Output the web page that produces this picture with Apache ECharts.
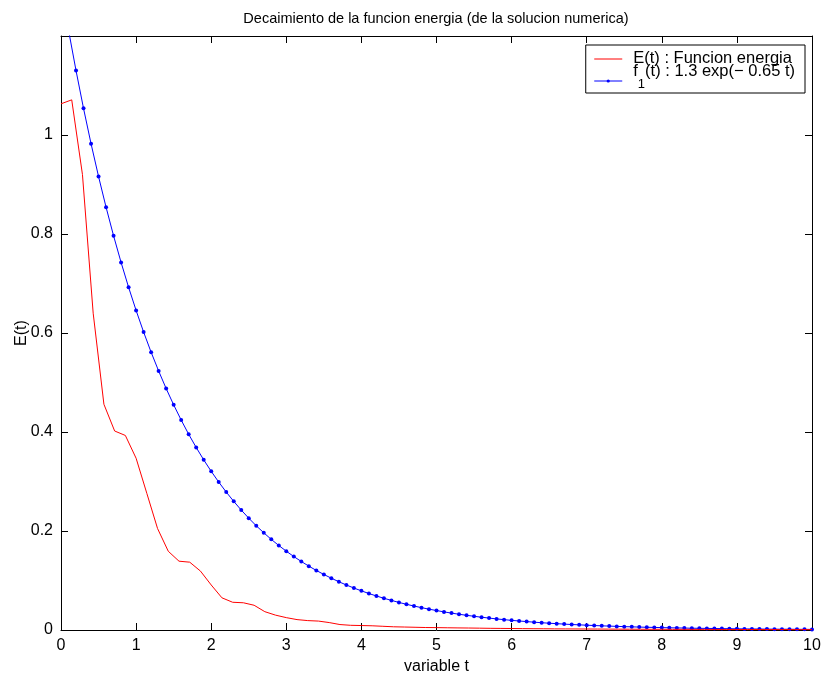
<!DOCTYPE html>
<html>
<head>
<meta charset="utf-8">
<script src="https://cdn.jsdelivr.net/npm/echarts@6/dist/echarts.min.js"></script>
<style>html,body{margin:0;padding:0;background:#fff}#c{width:826px;height:677px}</style>
</head>
<body>
<div id="c"></div>
<script>
// Energy function E(t), sampled every 1/7 time unit (t = 0 .. 10)
const energyStep = 1 / 7;
const energyValues = [
  1.063, 1.071, 0.92, 0.64, 0.456, 0.402, 0.393, 0.347, 0.276, 0.205,
  0.159, 0.139, 0.137, 0.119, 0.091, 0.065, 0.056, 0.055, 0.050, 0.037,
  0.030, 0.025, 0.021, 0.019, 0.018, 0.015, 0.011, 0.0095, 0.009, 0.0085,
  0.0075, 0.0065, 0.006, 0.0055, 0.005, 0.0048, 0.0045, 0.0042, 0.004, 0.0037,
  0.0034, 0.0032, 0.003, 0.0028, 0.0026, 0.0025, 0.0023, 0.0022, 0.0021, 0.002,
  0.0019, 0.0018, 0.0017, 0.0016, 0.0015, 0.0014, 0.0014, 0.0013, 0.0013, 0.0012,
  0.0012, 0.0011, 0.0011, 0.001, 0.001, 0.001, 0.0009, 0.0009, 0.0009, 0.0008,
  0.0008
];
// Reference curve f1(t), sampled every 0.1 time unit (t = 0 .. 10)
const refStep = 0.1;
const refValues = [
  1.3, 1.2121, 1.1302, 1.0538, 0.9825, 0.9161, 0.8542, 0.7964, 0.7426, 0.6924,
  0.6456, 0.6019, 0.5612, 0.5233, 0.4879, 0.4549, 0.4242, 0.3955, 0.3688, 0.3438,
  0.3206, 0.2989, 0.2787, 0.2599, 0.2423, 0.2259, 0.2106, 0.1964, 0.1831, 0.1707,
  0.1592, 0.1484, 0.1384, 0.1290, 0.1203, 0.1122, 0.1046, 0.0975, 0.0909, 0.0848,
  0.0791, 0.0737, 0.0687, 0.0641, 0.0598, 0.0557, 0.0519, 0.0484, 0.0452, 0.0421,
  0.0393, 0.0366, 0.0341, 0.0318, 0.0297, 0.0277, 0.0258, 0.0241, 0.0224, 0.0209,
  0.0195, 0.0182, 0.0170, 0.0158, 0.0147, 0.0137, 0.0128, 0.0119, 0.0111, 0.0104,
  0.0097, 0.0090, 0.0084, 0.0079, 0.0073, 0.0068, 0.0064, 0.0059, 0.0055, 0.0052,
  0.0048, 0.0045, 0.0042, 0.0039, 0.0036, 0.0034, 0.0032, 0.0030, 0.0028, 0.0026,
  0.0024, 0.0022, 0.0021, 0.0019, 0.0018, 0.0017, 0.0016, 0.0015, 0.0014, 0.0013,
  0.0012
];
const xTickLabels = ['0','1','2','3','4','5','6','7','8','9','10'];
const yTickLabels = ['0','0.2','0.4','0.6','0.8','1'];
const titleText = 'Decaimiento de la funcion energia (de la solucion numerica)';
const energyName = 'E(t) : Funcion energia';
const refName = 'f1';
const refLabelMain = 'f';
const refLabelSub = '1';
const refLabelRest = '(t) : 1.3 exp(\u2212 0.65 t)';

const energyData = energyValues.map((v, i) => [i * energyStep, v]);
const refData = refValues.map((v, i) => [i * refStep, v]);

const FONT = 'Liberation Sans, Arial, Helvetica, sans-serif';
const axisCommon = {
  axisLine: { show: true, onZero: false, lineStyle: { color: '#000', width: 1 } },
  axisTick: { show: true, inside: true, length: 7, lineStyle: { color: '#000' } },
  splitLine: { show: false },
  nameMoveOverlap: false
};

const chart = echarts.init(document.getElementById('c'), null, { renderer: 'canvas' });
chart.setOption({
  backgroundColor: '#fff',
  animation: false,
  title: {
    text: titleText, left: 431, top: 6, textAlign: 'center',
    textStyle: { fontFamily: FONT, fontSize: 14.5, fontWeight: 'normal', color: '#000' }
  },
  grid: { left: 61, right: 14, top: 36, bottom: 47, outerBoundsMode: 'none', containLabel: false },
  legend: {
    orient: 'vertical', right: 21, top: 45,
    backgroundColor: '#fff', borderColor: '#000', borderWidth: 1,
    padding: [5, 10, 2, 8], itemWidth: 28, itemHeight: 4, itemGap: -4,
    lineStyle: { width: 1 },
    textStyle: { fontFamily: FONT, fontSize: 16.5, color: '#000',
      rich: {
        e: { fontFamily: FONT, fontSize: 16.5, color: '#000', lineHeight: 18, verticalAlign: 'top', padding: [0, 0, 0, 6] },
        a: { fontFamily: FONT, fontSize: 16.5, color: '#000', lineHeight: 18, verticalAlign: 'top' },
        s: { fontFamily: FONT, fontSize: 13, color: '#000', lineHeight: 36, verticalAlign: 'top', padding: [15, 0, 0, 0] }
      }
    },
    formatter: function (name) {
      if (name === refName) return '{e|' + refLabelMain + '}{s|' + refLabelSub + '}{a|' + refLabelRest + '}';
      return '{e|' + name + '}';
    },
    data: [
      { name: energyName, itemStyle: { opacity: 0 } },
      { name: refName }
    ]
  },
  xAxis: [
    Object.assign({}, axisCommon, {
      type: 'value', position: 'bottom', min: 0, max: 10, interval: 1,
      name: 'variable t', nameLocation: 'middle', nameGap: 29,
      nameTextStyle: { fontFamily: FONT, fontSize: 16, color: '#000' },
      axisLabel: { fontFamily: FONT, fontSize: 16, color: '#000', margin: 8,
        formatter: v => xTickLabels[Math.round(v)] }
    }),
    Object.assign({}, axisCommon, {
      type: 'value', position: 'top', min: 0, max: 10, interval: 1,
      axisLabel: { show: false }
    })
  ],
  yAxis: [
    Object.assign({}, axisCommon, {
      type: 'value', position: 'left', min: 0, max: 1.2, interval: 0.2,
      name: 'E(t)', nameLocation: 'middle', nameGap: 31, nameRotate: 90,
      nameTextStyle: { fontFamily: FONT, fontSize: 16, color: '#000' },
      axisLabel: { fontFamily: FONT, fontSize: 16, color: '#000', margin: 8,
        formatter: v => { const i = Math.round(v / 0.2); return i < yTickLabels.length ? yTickLabels[i] : ''; } }
    }),
    Object.assign({}, axisCommon, {
      type: 'value', position: 'right', min: 0, max: 1.2, interval: 0.2,
      axisLabel: { show: false }
    })
  ],
  series: [
    {
      name: energyName, type: 'line', data: energyData, showSymbol: false, symbol: 'none',
      lineStyle: { color: '#ff0000', width: 1 }, itemStyle: { color: '#ff0000' },
      clip: true, z: 3
    },
    {
      name: refName, type: 'line', data: refData, symbol: 'circle', symbolSize: 4,
      showAllSymbol: true,
      lineStyle: { color: '#0000ff', width: 1 }, itemStyle: { color: '#0000ff' },
      clip: true, z: 2
    }
  ]
});
</script>
</body>
</html>
